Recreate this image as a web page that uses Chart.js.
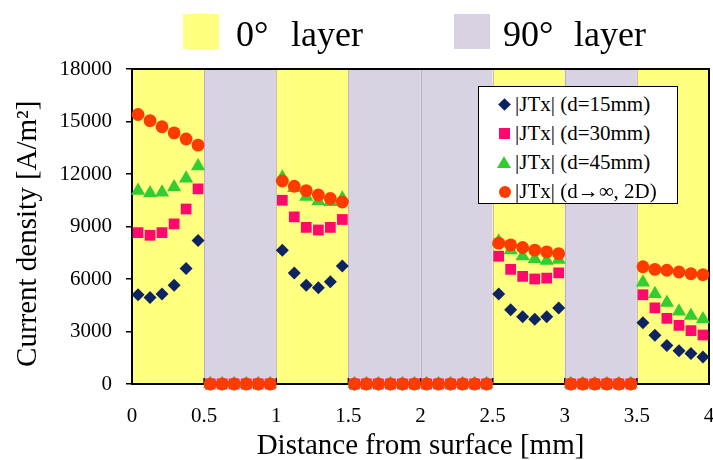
<!DOCTYPE html>
<html>
<head>
<meta charset="utf-8">
<script src="https://cdn.jsdelivr.net/npm/chart.js@4.4.0/dist/chart.umd.min.js"></script>
<style>
  html, body { margin: 0; padding: 0; background: #fff; }
  #wrap { position: relative; width: 713px; height: 460px; font-family: "Liberation Serif", "Times New Roman", serif; color: #000; }
  #chart { position: absolute; left: 0; top: 0; }
  .swatch { position: absolute; width: 36px; height: 35px; }
  .big { position: absolute; font-size: 36px; line-height: 36px; white-space: nowrap; }
  #legendBox { position: absolute; left: 478px; top: 86px; width: 198px; height: 116px; background: #fff; border: 1.5px solid #000; }
  .row { position: absolute; left: 0; height: 29px; line-height: 29px; font-size: 21px; white-space: nowrap; }
  .row span.txt { position: absolute; left: 36px; top: 0; }
  .mk { position: absolute; }
</style>
</head>
<body>
<div id="wrap">
  <canvas id="chart" width="713" height="460"></canvas>

  <div class="swatch" style="left:183px; top:14px; background:#FFFF80;"></div>
  <div class="big" style="left:236px; top:16px;">0°</div>
  <div class="big" style="left:291px; top:16px;">layer</div>
  <div class="swatch" style="left:454px; top:14px; background:#D9D2E3;"></div>
  <div class="big" style="left:503px; top:16px;">90°</div>
  <div class="big" style="left:574px; top:16px;">layer</div>

  <div id="legendBox"></div>
</div>

<script>
// distance from surface [mm], centre of each 1/12 mm cell
const xPositions = [
  0.042, 0.125, 0.208, 0.292, 0.375, 0.458,
  0.542, 0.625, 0.708, 0.792, 0.875, 0.958,
  1.042, 1.125, 1.208, 1.292, 1.375, 1.458,
  1.542, 1.625, 1.708, 1.792, 1.875, 1.958,
  2.042, 2.125, 2.208, 2.292, 2.375, 2.458,
  2.542, 2.625, 2.708, 2.792, 2.875, 2.958,
  3.042, 3.125, 3.208, 3.292, 3.375, 3.458,
  3.542, 3.625, 3.708, 3.792, 3.875, 3.958
];

const jtx15 = [
  5100, 4950, 5150, 5650, 6600, 8200,
  0, 0, 0, 0, 0, 0,
  7650, 6350, 5650, 5500, 5850, 6750,
  0, 0, 0, 0, 0, 0,
  0, 0, 0, 0, 0, 0,
  5150, 4250, 3850, 3700, 3850, 4350,
  0, 0, 0, 0, 0, 0,
  3500, 2780, 2200, 1900, 1750, 1550
];
const jtx30 = [
  8650, 8500, 8650, 9150, 10000, 11150,
  0, 0, 0, 0, 0, 0,
  10500, 9550, 8950, 8800, 8950, 9400,
  0, 0, 0, 0, 0, 0,
  0, 0, 0, 0, 0, 0,
  7300, 6550, 6150, 6000, 6050, 6350,
  0, 0, 0, 0, 0, 0,
  5100, 4350, 3750, 3350, 3050, 2800
];
const jtx45 = [
  11050, 10900, 10950, 11250, 11750, 12450,
  0, 0, 0, 0, 0, 0,
  11800, 11200, 10700, 10450, 10400, 10600,
  0, 0, 0, 0, 0, 0,
  0, 0, 0, 0, 0, 0,
  8150, 7650, 7300, 7150, 7050, 7100,
  0, 0, 0, 0, 0, 0,
  5800, 5150, 4650, 4150, 3900, 3700
];
const jtx2D = [
  15400, 15050, 14700, 14350, 14000, 13650,
  0, 0, 0, 0, 0, 0,
  11600, 11300, 11050, 10800, 10600, 10400,
  0, 0, 0, 0, 0, 0,
  0, 0, 0, 0, 0, 0,
  8050, 7950, 7800, 7650, 7550, 7450,
  0, 0, 0, 0, 0, 0,
  6700, 6550, 6500, 6400, 6300, 6250
];

const seriesLabels = ['|JTx| (d=15mm)', '|JTx| (d=30mm)', '|JTx| (d=45mm)', '|JTx| (d\u2192\u221E, 2D)'];

// ply layers behind the points
const layerStart = [0, 0.5, 1, 1.5, 2, 2.5, 3, 3.5];
const layerEnd = [0.5, 1, 1.5, 2, 2.5, 3, 3.5, 4];
const layerAngle = [0, 90, 0, 90, 90, 0, 90, 0];

const xTicks = [0, 0.5, 1, 1.5, 2, 2.5, 3, 3.5, 4];
const yTicks = [0, 3000, 6000, 9000, 12000, 15000, 18000];

const COLOR_0 = '#FFFF80';
const COLOR_90 = '#D9D2E3';
const markerColors = ['#0E2461', '#FF0A6C', '#33CC33', '#FF3B00'];
const markerStyles = ['rectRot', 'rect', 'triangle', 'circle'];
const markerRadius = [6.5, 7.6, 8.2, 6.4];

const layerPlugin = {
  id: 'layers',
  beforeDraw: (chart) => {
    const { ctx, chartArea, scales } = chart;
    const x = scales.x;
    ctx.save();
    layerStart.forEach((s, i) => {
      const x1 = x.getPixelForValue(s);
      const x2 = x.getPixelForValue(layerEnd[i]);
      ctx.fillStyle = layerAngle[i] === 0 ? COLOR_0 : COLOR_90;
      ctx.fillRect(x1, chartArea.top, x2 - x1, chartArea.bottom - chartArea.top);
    });
    // faint edges between bands
    ctx.strokeStyle = 'rgba(160,150,185,0.6)';
    ctx.lineWidth = 1;
    layerStart.forEach((s) => {
      if (s === 0) return;
      const px = Math.round(x.getPixelForValue(s)) + 0.5;
      ctx.beginPath();
      ctx.moveTo(px, chartArea.top);
      ctx.lineTo(px, chartArea.bottom);
      ctx.stroke();
    });
    ctx.restore();
  },
  beforeDatasetsDraw: (chart) => {
    const { ctx, chartArea, scales } = chart;
    ctx.save();
    ctx.strokeStyle = '#000';
    ctx.lineWidth = 2;
    ctx.strokeRect(chartArea.left, chartArea.top, chartArea.right - chartArea.left, chartArea.bottom - chartArea.top);
    // x tick marks point inward
    ctx.lineWidth = 1.5;
    xTicks.forEach((t) => {
      const px = scales.x.getPixelForValue(t);
      ctx.beginPath();
      ctx.moveTo(px, chartArea.bottom);
      ctx.lineTo(px, chartArea.bottom - 6);
      ctx.stroke();
    });
    ctx.restore();
  }
};

function makeDataset(values, i) {
  return {
    label: seriesLabels[i],
    data: values.map((v, k) => ({ x: xPositions[k], y: v })),
    pointStyle: markerStyles[i],
    pointRadius: markerRadius[i],
    pointBackgroundColor: markerColors[i],
    pointBorderColor: markerColors[i],
    pointBorderWidth: 0,
    showLine: false,
    clip: false,
    order: 4 - i   // later series drawn on top, like the original
  };
}

const FONT = 'Liberation Serif';

new Chart(document.getElementById('chart'), {
  type: 'scatter',
  plugins: [layerPlugin],
  data: {
    datasets: [jtx15, jtx30, jtx45, jtx2D].map(makeDataset)
  },
  options: {
    responsive: false,
    animation: false,
    layout: { autoPadding: false, padding: { top: 69, right: 4, left: 0, bottom: 0 } },
    plugins: {
      legend: { display: false },
      tooltip: { enabled: false }
    },
    scales: {
      x: {
        type: 'linear',
        min: 0,
        max: 4,
        afterFit: (scale) => {
          scale.height = 76;
          scale.paddingLeft = 0;
          scale.paddingRight = 0;
        },
        afterBuildTicks: (scale) => { scale.ticks = xTicks.map(v => ({ value: v })); },
        border: { display: false },
        grid: { display: false },
        ticks: {
          color: '#000',
          padding: 12,
          font: { family: FONT, size: 21 },
          callback: (v) => String(v)
        },
        title: {
          display: true,
          text: 'Distance from surface [mm]',
          color: '#000',
          font: { family: FONT, size: 29 },
          padding: { top: 0, bottom: -4 }
        }
      },
      y: {
        min: 0,
        max: 18000,
        afterFit: (scale) => {
          scale.width = 132;
          scale.paddingTop = 0;
          scale.paddingBottom = 0;
        },
        afterBuildTicks: (scale) => { scale.ticks = yTicks.map(v => ({ value: v })); },
        border: { display: false },
        grid: {
          drawOnChartArea: false,
          drawTicks: true,
          tickLength: 6,
          color: '#000',
          lineWidth: 1.5
        },
        ticks: {
          color: '#000',
          padding: 14,
          font: { family: FONT, size: 21 },
          callback: (v) => String(v)
        },
        title: {
          display: true,
          // trailing en space nudges the rotated title a little lower, as in the original
          text: 'Current density [A/m\u00B2]\u2002',
          color: '#000',
          font: { family: FONT, size: 29 },
          padding: { top: 11, bottom: 0 }
        }
      }
    }
  }
});

// legend inside the plot
const legendBox = document.getElementById('legendBox');
seriesLabels.forEach((label, i) => {
  const row = document.createElement('div');
  row.className = 'row';
  row.style.top = (3 + i * 29) + 'px';
  row.style.width = '198px';
  const mk = document.createElement('div');
  mk.className = 'mk';
  const c = markerColors[i];
  if (markerStyles[i] === 'rectRot') {
    mk.style.cssText = `left:21px;top:10px;width:9px;height:9px;background:${c};transform:rotate(45deg);`;
  } else if (markerStyles[i] === 'rect') {
    mk.style.cssText = `left:20px;top:9px;width:11px;height:11px;background:${c};`;
  } else if (markerStyles[i] === 'triangle') {
    mk.style.cssText = `left:18px;top:8px;width:0;height:0;border-left:7px solid transparent;border-right:7px solid transparent;border-bottom:12px solid ${c};`;
  } else {
    mk.style.cssText = `left:20px;top:9px;width:12px;height:12px;border-radius:50%;background:${c};`;
  }
  const txt = document.createElement('span');
  txt.className = 'txt';
  txt.textContent = label;
  row.appendChild(mk);
  row.appendChild(txt);
  legendBox.appendChild(row);
});
</script>
</body>
</html>
